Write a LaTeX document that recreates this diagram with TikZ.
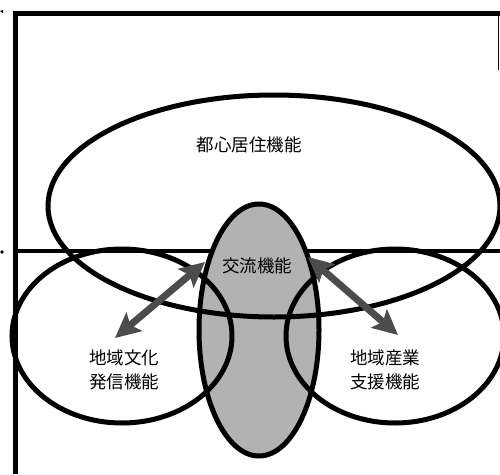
\documentclass[tikz,border=0pt]{standalone}
\usepackage{fontspec}
\setmainfont{Noto Sans CJK JP}
\usetikzlibrary{shapes.geometric,arrows.meta}
\begin{document}
\begin{tikzpicture}[x=1pt,y=-1pt,
  oval/.style={ellipse,draw=black,line width=5pt,inner sep=0pt},
  lbl/.style={font=\fontsize{17.5}{24}\selectfont,align=center,inner sep=0pt},
  dbl/.style={draw=black!70,line width=7pt,{Stealth[length=25pt,width=24pt,inset=5pt]}-{Stealth[length=25pt,width=24pt,inset=5pt]}}]
\useasboundingbox (0,0) rectangle (500,474);
\clip (0,0) rectangle (500,474);
% frame
\coordinate (fl) at (15.5,474);
\coordinate (ftl) at (15.5,13.5);
\coordinate (ftr) at (500,13.5);
\draw[line width=4.5pt] (fl) -- (ftl);
\draw[line width=5.5pt] (13.3,13.5) -- (ftr);
\draw[line width=1.2pt] (498.8,13.5) -- (498.8,70);
\coordinate (hl) at (15,251);
\coordinate (hr) at (500,251);
\draw[line width=4.5pt] (hl) -- (hr);
% small edge marks
\fill (0,11) -- (3,10) -- (3,13) -- cycle;
\fill (2,252) circle (1.8pt);
% central gray ellipse
\node[oval,fill=black!30,minimum width=120pt,minimum height=252pt] (ex) at (259,330) {};
% other ellipses
\node[oval,minimum width=452pt,minimum height=222pt] (top) at (274,206) {};
\node[oval,minimum width=220pt,minimum height=174pt] (lft) at (122,336) {};
\node[oval,minimum width=218pt,minimum height=174pt] (rgt) at (395,336) {};
% labels
\node[lbl,text=black] (tt) at (249,145) {都心居住機能};
\node[lbl] (tx) at (257,266) {交流機能};
\node[lbl] (tl) at (124,370) {地域文化\\発信機能};
\node[lbl] (tr) at (385,370) {地域産業\\支援機能};
% arrows
\coordinate (a1) at (115,338);
\coordinate (a2) at (205,262);
\coordinate (b1) at (308,257);
\coordinate (b2) at (398,335);
\draw[dbl] (a1) -- (a2);
\draw[dbl] (b1) -- (b2);
\end{tikzpicture}
\end{document}
